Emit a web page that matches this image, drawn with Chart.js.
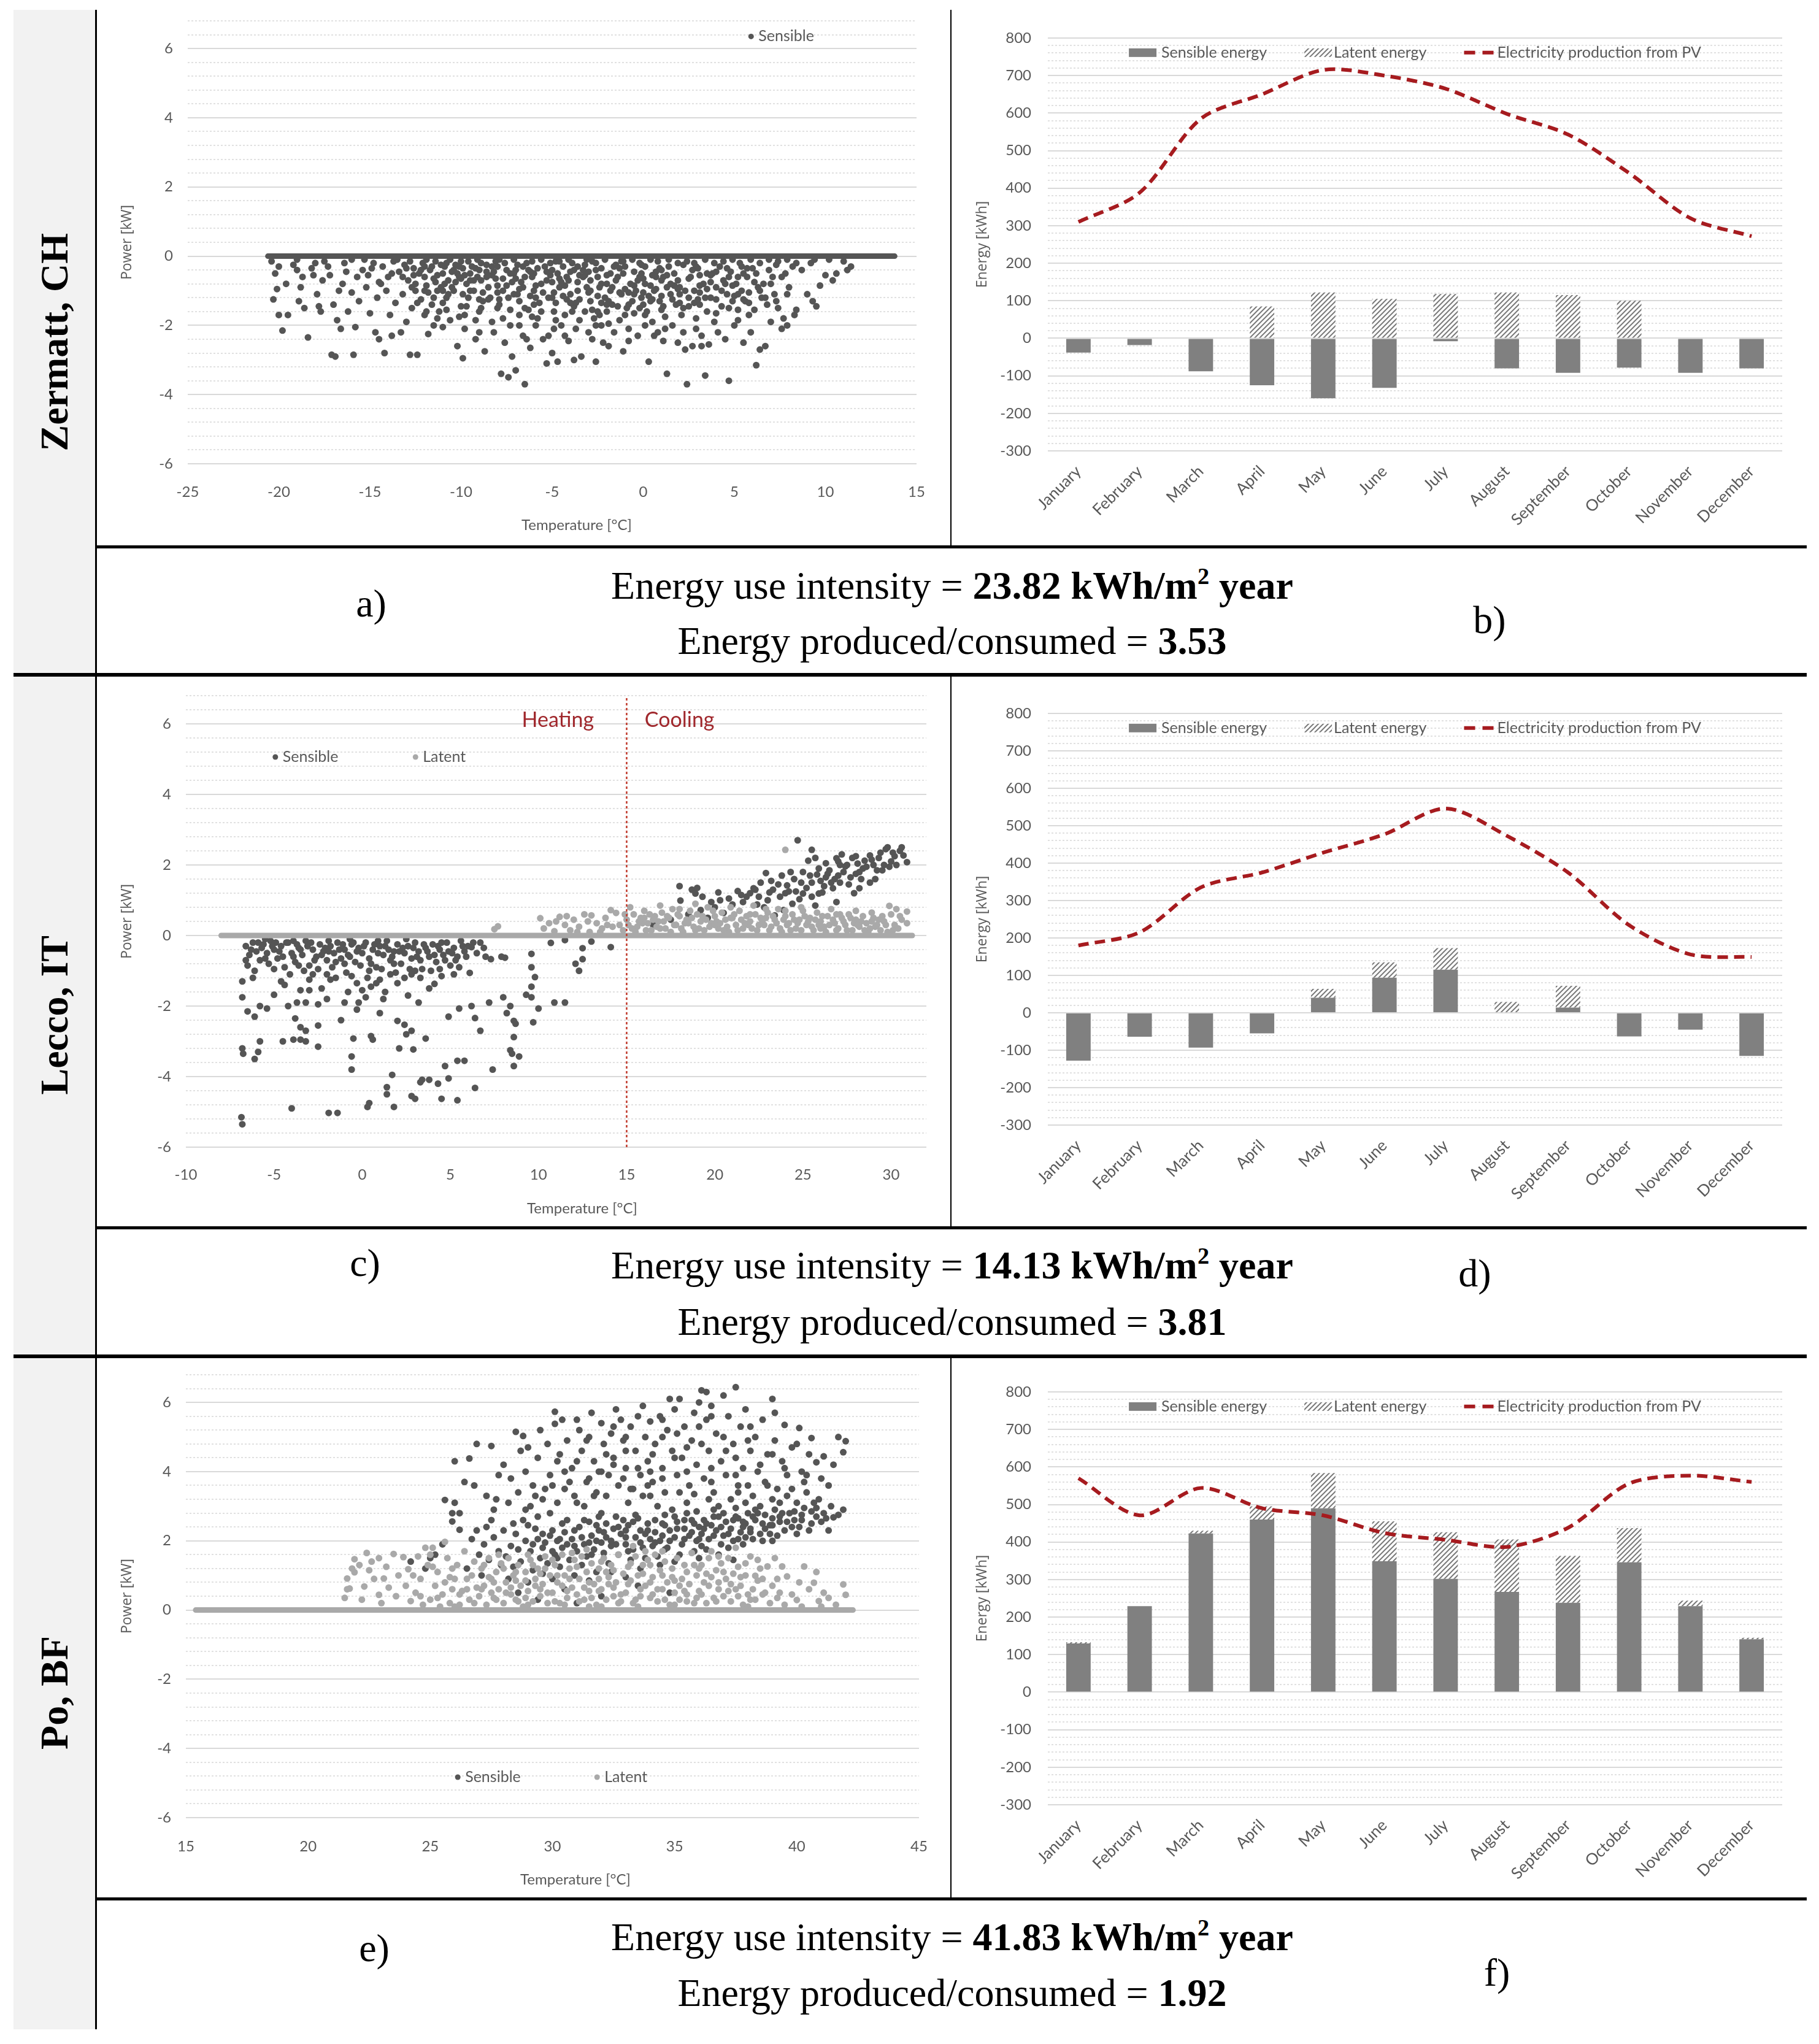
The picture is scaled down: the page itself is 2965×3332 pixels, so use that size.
<!DOCTYPE html>
<html lang="en">
<head>
<meta charset="UTF-8">
<title>Sensible and latent loads - Zermatt, Lecco, Po</title>
<script src="https://cdn.jsdelivr.net/npm/chart.js@4.4.1/dist/chart.umd.min.js"></script>
<style>
  html, body { margin: 0; padding: 0; background: #fff; }
  #page { position: relative; width: 2965px; height: 3332px; overflow: hidden; background: #fff; }
  .side { position: absolute; left: 22px; width: 133px; top: 16px; height: 3292px; background: #f2f2f2; }
  .place { position: absolute; left: 22px; width: 133px; display: flex; align-items: center; justify-content: center; }
  .place span { writing-mode: vertical-rl; transform: rotate(180deg); font: bold 64px "Liberation Serif", "Times New Roman", serif; color: #000; white-space: nowrap; }
  .line { position: absolute; background: #000; }
  .panel { position: absolute; }
  .cap { position: absolute; left: 159px; width: 2786px; text-align: center; font: 64px/64px "Liberation Serif", "Times New Roman", serif; color: #000; white-space: nowrap; }
  .cap sup { font-size: 0.6em; line-height: 0; vertical-align: 0.62em; }
  .tag { position: absolute; font: 64px/64px "Liberation Serif", "Times New Roman", serif; color: #000; transform: translateX(-50%); }
</style>
</head>
<body>
<div id="page">
  <div class="side"></div>
  <div class="place" style="top:16px;height:1083px"><span>Zermatt, CH</span></div>
  <div class="place" style="top:1099px;height:1111px"><span>Lecco, IT</span></div>
  <div class="place" style="top:2210px;height:1098px"><span>Po, BF</span></div>

  <div class="line" style="left:155px;top:16px;width:3px;height:3292px"></div>
  <div class="line" style="left:1549px;top:16px;width:2px;height:875px"></div>
  <div class="line" style="left:1549px;top:1101px;width:2px;height:900px"></div>
  <div class="line" style="left:1549px;top:2212px;width:2px;height:883px"></div>
  <div class="line" style="left:155px;top:889px;width:2790px;height:5px"></div>
  <div class="line" style="left:22px;top:1097px;width:2923px;height:6px"></div>
  <div class="line" style="left:155px;top:1999px;width:2790px;height:5px"></div>
  <div class="line" style="left:22px;top:2208px;width:2923px;height:6px"></div>
  <div class="line" style="left:155px;top:3093px;width:2790px;height:5px"></div>

  <div class="panel" style="left:159px;top:21px;width:1387px;height:868px"><canvas id="chartA"></canvas></div>
  <div class="panel" style="left:1551px;top:21px;width:1389px;height:868px"><canvas id="chartB"></canvas></div>
  <div class="panel" style="left:159px;top:1106px;width:1387px;height:892px"><canvas id="chartC"></canvas></div>
  <div class="panel" style="left:1551px;top:1106px;width:1389px;height:892px"><canvas id="chartD"></canvas></div>
  <div class="panel" style="left:159px;top:2217px;width:1387px;height:875px"><canvas id="chartE"></canvas></div>
  <div class="panel" style="left:1551px;top:2217px;width:1389px;height:875px"><canvas id="chartF"></canvas></div>

  <div class="cap" style="top:923px">Energy use intensity = <b>23.82 kWh/m<sup>2</sup> year</b></div>
  <div class="cap" style="top:1013px">Energy produced/consumed = <b>3.53</b></div>
  <div class="tag" style="left:605px;top:952px">a)</div>
  <div class="tag" style="left:2428px;top:979px">b)</div>

  <div class="cap" style="top:2031px">Energy use intensity = <b>14.13 kWh/m<sup>2</sup> year</b></div>
  <div class="cap" style="top:2123px">Energy produced/consumed = <b>3.81</b></div>
  <div class="tag" style="left:595px;top:2027px">c)</div>
  <div class="tag" style="left:2404px;top:2044px">d)</div>

  <div class="cap" style="top:3126px">Energy use intensity = <b>41.83 kWh/m<sup>2</sup> year</b></div>
  <div class="cap" style="top:3217px">Energy produced/consumed = <b>1.92</b></div>
  <div class="tag" style="left:610px;top:3144px">e)</div>
  <div class="tag" style="left:2440px;top:3184px">f)</div>
</div>

<script>
// ---- monthly energy balance (kWh) ----
const months = ['January', 'February', 'March', 'April', 'May', 'June', 'July', 'August', 'September', 'October', 'November', 'December'];

const zermattSensibleEnergy = [-38, -18, -88, -125, -160, -132, -8, -80, -92, -78, -92, -80];
const zermattLatentEnergy = [0, 0, 0, 85, 122, 105, 118, 122, 115, 100, 0, 0];
const zermattPV = [310, 388, 585, 650, 715, 700, 665, 598, 543, 440, 320, 272];

const leccoSensibleEnergy = [-128, -64, -93, -55, 40, 94, 115, 0, 14, -63, -45, -115];
const leccoLatentEnergy = [0, 0, 0, 0, 24, 41, 58, 29, 58, 0, 0, 0];
const leccoPV = [180, 215, 335, 375, 428, 477, 546, 473, 375, 234, 156, 149];

const poSensibleEnergy = [130, 229, 423, 460, 490, 349, 302, 267, 238, 346, 229, 141];
const poLatentEnergy = [3, 0, 7, 35, 94, 106, 124, 140, 125, 91, 15, 4];
const poPV = [570, 471, 544, 490, 471, 424, 406, 387, 438, 556, 577, 560];

// ---- hourly power vs outdoor temperature [T in degC, P in kW] ----
const zermattZeroLine = [[-20.6, 0], [13.8, 0]];
const zermattSensible = [
  [-20.4,-0.15],[-20.2,-0.5],[-20.1,-0.95],[-20.3,-1.25],[-20.0,-1.7],[-19.8,-2.15],[-19.6,-0.8],[-19.5,-1.7],[-20.0,-0.3],
  [-19.2,-0.25],[-19.0,-0.4],[-18.9,-1.3],[-18.7,-0.6],[-18.6,-1.5],[-18.4,-2.35],[-18.8,-0.9],
  [-18.2,-0.35],[-18.0,-0.2],[-17.9,-1.1],[-17.8,-1.45],[-17.6,-0.7],[-17.7,-1.6],[-18.1,-0.55],
  [-17.3,-0.3],[-17.1,-2.85],[-16.9,-2.9],[-17.0,-1.4],[-16.8,-1.85],[-16.7,-1.0],[-16.6,-2.1],[-17.2,-0.55],
  [-16.4,-0.2],[-16.2,-1.6],[-16.0,-1.05],[-15.9,-2.85],[-15.8,-2.05],[-15.7,-0.6],[-15.6,-1.3],[-16.3,-0.45],
  [-15.3,-0.1],[-15.2,-0.9],[-15.0,-1.65],[-14.9,-0.35],[-14.7,-2.2],[-14.6,-1.2],[-14.5,-2.4],[-15.1,-0.55],
  [-14.3,-0.3],[-14.2,-2.8],[-14.1,-1.0],[-14.0,-0.6],[-13.9,-1.7],[-13.8,-2.3],[-13.7,-0.15],[-13.6,-1.35],[-14.4,-0.8],
  [-13.4,-0.45],[-13.3,-2.2],[-13.2,-1.1],[-13.1,-0.25],[-13.0,-1.9],[-12.9,-0.7],[-12.8,-2.85],[-12.7,-1.5],[-12.6,-0.35],[-12.5,-1.0],[-13.2,-0.6],
  [-12.4,-2.85],[-12.3,-0.5],[-12.2,-1.25],[-12.1,-0.2],[-12.0,-1.7],[-11.9,-0.85],[-11.8,-2.25],[-11.7,-0.4],[-11.6,-1.4],[-11.5,-0.65],[-12.0,-0.3],[-11.8,-1.05],
  [-11.4,-0.15],[-11.3,-0.55],[-11.2,-1.6],[-11.1,-0.9],[-11.0,-2.05],[-10.9,-0.3],[-10.8,-1.2],[-10.7,-0.7],[-10.6,-1.85],[-10.5,-0.45],[-11.0,-1.35],[-10.8,-0.2],[-11.3,-1.0],
  [-10.4,-1.0],[-10.3,-0.25],[-10.2,-2.6],[-10.1,-0.6],[-10.0,-1.45],[-9.9,-0.35],[-9.8,-2.1],[-9.7,-0.8],[-9.6,-1.2],[-9.5,-0.5],[-10.0,-0.15],[-9.8,-1.7],[-10.3,-0.75],[-9.9,-2.95],
  [-9.4,-0.3],[-9.3,-1.0],[-9.2,-2.4],[-9.1,-0.6],[-9.0,-1.6],[-8.9,-0.2],[-8.8,-1.3],[-8.7,-2.75],[-8.6,-0.45],[-8.5,-0.9],[-9.2,-1.85],[-8.9,-0.7],[-9.0,-0.4],
  [-8.4,-1.2],[-8.3,-0.3],[-8.2,-2.2],[-8.1,-0.65],[-8.0,-1.5],[-7.9,-0.1],[-7.8,-3.4],[-7.7,-1.0],[-7.6,-2.5],[-7.5,-0.4],[-8.0,-0.85],[-7.7,-1.8],[-8.3,-0.55],[-7.9,-1.25],
  [-7.4,-3.5],[-7.3,-0.5],[-7.2,-2.9],[-7.1,-1.1],[-7.0,-3.3],[-6.9,-0.25],[-6.8,-1.7],[-6.7,-0.75],[-6.6,-2.3],[-6.5,-3.7],[-7.0,-0.4],[-6.8,-1.3],[-7.3,-2.0],[-6.6,-0.9],
  [-6.4,-0.2],[-6.3,-1.55],[-6.2,-2.65],[-6.1,-0.6],[-6.0,-1.0],[-5.9,-2.0],[-5.8,-0.35],[-5.7,-1.35],[-5.6,-0.8],[-5.5,-2.4],[-6.0,-0.5],[-5.8,-1.8],[-6.2,-1.15],
  [-5.4,-0.3],[-5.3,-3.1],[-5.2,-1.2],[-5.1,-0.55],[-5.0,-2.8],[-4.9,-1.6],[-4.8,-0.15],[-4.7,-3.05],[-4.6,-0.9],[-4.5,-2.0],[-5.0,-0.4],[-4.8,-1.35],[-5.2,-2.3],[-4.6,-0.65],[-4.9,-1.05],
  [-4.4,-0.3],[-4.3,-1.7],[-4.2,-0.6],[-4.1,-2.45],[-4.0,-1.1],[-3.9,-0.2],[-3.8,-1.45],[-3.7,-2.1],[-3.6,-0.75],[-3.5,-1.85],[-4.0,-0.45],[-3.8,-3.0],[-4.2,-1.25],[-3.6,-1.0],
  [-3.4,-2.9],[-3.3,-0.4],[-3.2,-1.6],[-3.1,-0.9],[-3.0,-2.2],[-2.9,-1.3],[-2.8,-0.15],[-2.7,-1.8],[-2.6,-3.05],[-2.5,-0.6],[-3.0,-1.05],[-2.8,-1.55],[-3.2,-0.25],[-2.6,-2.0],[-2.9,-0.7],
  [-2.4,-1.7],[-2.3,-0.35],[-2.2,-2.5],[-2.1,-1.2],[-2.0,-0.8],[-1.9,-1.95],[-1.8,-0.5],[-1.7,-1.4],[-1.6,-2.2],[-1.5,-0.25],[-2.0,-1.6],[-1.8,-1.0],[-2.3,-2.0],
  [-1.4,-0.6],[-1.3,-1.85],[-1.2,-1.1],[-1.1,-2.75],[-1.0,-0.3],[-0.9,-1.5],[-0.8,-2.1],[-0.7,-0.8],[-0.6,-1.3],[-0.5,-0.45],[-1.0,-1.7],[-0.8,-1.05],[-1.2,-0.15],
  [-0.4,-1.0],[-0.3,-2.3],[-0.2,-0.6],[-0.1,-1.2],[0.0,-1.05],[0.1,-0.3],[0.2,-1.6],[0.3,-3.05],[0.4,-0.85],[0.5,-1.9],[0.0,-1.4],[-0.2,-0.2],[0.3,-1.15],[0.1,-2.0],
  [0.6,-1.0],[0.7,-0.45],[0.8,-2.2],[0.9,-1.3],[1.0,-0.7],[1.1,-2.45],[1.2,-1.75],[1.3,-3.4],[1.4,-0.3],[1.5,-1.1],[1.0,-1.55],[0.8,-0.15],[1.3,-0.9],
  [1.6,-2.0],[1.7,-0.5],[1.8,-1.4],[1.9,-2.5],[2.0,-0.9],[2.1,-1.7],[2.2,-0.25],[2.3,-2.7],[2.4,-3.7],[2.5,-1.2],[1.9,-0.7],[2.2,-2.2],[2.0,-1.1],
  [2.6,-0.6],[2.7,-2.6],[2.8,-1.0],[2.9,-1.8],[3.0,-0.35],[3.1,-1.4],[3.2,-2.3],[3.3,-0.8],[3.4,-3.45],[3.5,-1.6],[2.8,-0.2],[3.1,-0.55],
  [3.6,-2.55],[3.7,-1.2],[3.8,-0.5],[3.9,-1.9],[4.0,-0.9],[4.1,-2.2],[4.2,-0.3],[4.3,-1.45],[4.4,-0.7],[4.0,-1.65],
  [4.6,-1.1],[4.7,-3.6],[4.8,-0.45],[4.9,-1.3],[5.0,-2.0],[5.1,-0.8],[5.2,-1.55],[5.3,-0.2],[5.4,-1.0],[5.5,-2.5],[5.0,-1.15],[5.2,-0.6],
  [5.6,-1.3],[5.7,-0.6],[5.8,-1.05],[5.9,-2.2],[6.0,-0.35],[6.1,-1.55],[6.2,-3.15],[6.3,-0.9],[6.4,-2.7],[6.5,-1.2],[5.8,-1.7],[6.2,-0.5],
  [6.6,-0.8],[6.7,-2.6],[6.8,-1.4],[6.9,-0.4],[7.0,-1.9],[7.1,-0.6],[7.2,-1.1],[7.3,-0.25],[7.4,-1.5],
  [7.6,-2.1],[7.7,-1.8],[7.8,-0.5],[7.9,-2.0],[8.0,-0.9],[8.2,-0.3],[8.3,-1.7],[8.4,-1.55],
  [8.7,-0.4],[9.0,-1.1],[9.2,-0.2],[9.5,-1.45],[9.3,-1.3],[10.0,-0.55],[10.4,-0.7],[10.6,-0.5],[11.2,-0.4],[11.4,-0.3],[9.7,-0.85],
  [-19.0,-0.1],[-17.5,-0.15],[-16.0,-0.1],[-14.8,-0.2],[-13.5,-0.1],[-12.8,-0.15],[-11.9,-0.1],[-11.1,-0.25],[-10.6,-0.1],[-10.1,-0.3],
  [-9.6,-0.15],[-9.1,-0.1],[-8.6,-0.25],[-8.1,-0.15],[-7.6,-0.2],[-7.1,-0.1],[-6.6,-0.3],[-6.1,-0.15],[-5.6,-0.1],[-5.1,-0.2],
  [-4.6,-0.15],[-4.1,-0.1],[-3.6,-0.3],[-3.1,-0.1],[-2.6,-0.2],[-2.1,-0.1],[-1.6,-0.3],[-1.1,-0.15],[-0.6,-0.1],[-0.1,-0.25],
  [0.4,-0.1],[0.9,-0.35],[1.4,-0.1],[1.9,-0.2],[2.4,-0.15],[2.9,-0.3],[3.4,-0.1],[3.9,-0.2],[4.4,-0.15],[4.9,-0.1],
  [5.4,-0.3],[5.9,-0.1],[6.4,-0.2],[6.9,-0.1],[7.4,-0.15],[7.9,-0.1],[8.4,-0.2],[9.4,-0.1],[10.2,-0.1],[11.0,-0.15],
  [-12.6,-0.55],[-11.4,-0.75],[-10.2,-0.5],[-9.3,-0.7],[-8.2,-0.45],[-7.2,-0.75],[-6.3,-0.4],[-5.3,-0.7],[-4.3,-0.85],[-3.3,-0.6],
  [-2.3,-0.8],[-1.3,-0.35],[-0.3,-0.7],[0.7,-0.6],[1.7,-0.85],[2.7,-0.4],[3.7,-0.75],[4.7,-0.6],[5.7,-0.35],
  [-9.9,-1.1],[-7.9,-1.4],[-5.9,-1.2],[-3.9,-1.6],[-1.9,-1.3],[0.1,-1.7],[1.1,-1.45],[3.1,-1.05],
  [-10.8,-1.55],[-8.8,-1.05],[-6.8,-2.0],[-4.8,-1.85],[-2.8,-2.4],[-0.8,-2.45],[1.2,-2.1],[3.2,-2.6],[5.2,-1.85],
  [-13.0,-0.35],[-12.7,-0.9],[-12.4,-1.35],[-12.2,-0.4],[-11.9,-1.6],[-11.6,-0.3],[-11.3,-1.8],[-11.0,-0.5],[-10.7,-1.1],[-10.4,-0.4],
  [-10.1,-1.75],[-9.8,-0.55],[-9.5,-1.0],[-9.2,-0.35],[-8.9,-1.5],[-8.6,-0.6],[-8.3,-1.9],[-8.0,-0.3],[-7.7,-0.65],[-7.4,-1.2],
  [-7.1,-0.5],[-6.8,-0.95],[-6.5,-1.5],[-6.2,-0.45],[-5.9,-0.85],[-5.6,-1.6],[-5.3,-0.45],[-5.0,-1.2],[-4.7,-0.5],[-4.4,-1.15],
  [-4.1,-0.7],[-3.8,-0.4],[-3.5,-1.25],[-3.2,-0.55],[-2.9,-1.0],[-2.6,-0.4],[-2.3,-1.35],[-2.0,-0.55],[-1.7,-0.9],[-1.4,-1.45],
  [-1.1,-0.5],[-0.8,-1.4],[-0.5,-0.85],[-0.2,-1.5],[0.1,-0.8],[0.4,-1.3],[0.7,-0.95],[1.0,-1.15],[1.3,-0.55],[1.6,-1.25],
  [1.9,-0.95],[2.2,-1.5],[2.5,-0.65],[2.8,-1.35],[3.1,-0.85],[3.4,-1.2],[3.7,-0.55],[4.0,-0.45],[4.3,-1.0],[4.6,-0.35],
  [4.9,-0.85],[5.2,-1.1],[5.5,-0.5],[5.8,-1.35],[6.1,-0.75],[6.4,-1.0],[6.7,-1.2],[7.0,-0.8],[7.3,-1.3],[7.6,-0.6],
  [7.9,-1.1],[-12.0,-1.0],[-10.9,-0.8],[-9.7,-1.45],[-8.5,-1.25],[-7.3,-1.55],[-6.1,-1.75],[-4.9,-2.1],[-3.7,-1.35],[-2.5,-1.6],
  [-1.3,-1.05],[-0.1,-0.5],[1.1,-0.6],[2.3,-1.0],[3.5,-0.5],[4.7,-1.5],[-11.5,-2.0],[-9.0,-2.2],[-6.4,-2.4],[-4.3,-2.3],
  [-1.9,-2.6],[0.6,-2.3],[2.9,-2.1],[4.5,-2.4],[-13.8,-0.5],[-14.5,-0.75],[-15.4,-0.4],[-16.5,-0.8],
  [-12.5,-0.8],[-11.5,-1.2],[-10.5,-0.9],[-9.5,-0.7],[-8.5,-0.55],[-7.5,-0.85],[-6.5,-0.6],[-5.5,-1.05],[-4.5,-0.75],[-3.5,-0.55],
  [-2.5,-1.15],[-1.5,-0.7],[-0.5,-1.1],[0.5,-0.55],[1.5,-0.8],[2.5,-1.45],[3.5,-0.95],[4.5,-0.8],[5.5,-1.25],[-12.0,-0.6],
  [-11.0,-1.0],[-10.0,-0.65],[-9.0,-1.25],[-8.0,-1.05],[-7.0,-0.65],[-6.0,-1.4],[-5.0,-0.75],[-4.0,-1.35],[-3.0,-0.45],[-2.0,-1.4],
  [-1.0,-0.95],[0.0,-0.65],[1.0,-0.4],[2.0,-1.35],[3.0,-1.25],[4.0,-1.25],[-0.5,-1.65],[0.5,-1.25],[-2.4,-0.9],[-6.9,-1.1]
];

const leccoZeroLine = [[-8.0, 0], [31.2, 0]];
const leccoBoundary = [[15, -6], [15, 6.8]];
const leccoSensible = [
  [-6.6,-0.3],[-6.4,-0.55],[-6.2,-0.2],[-6.0,-0.45],[-5.8,-0.7],[-5.6,-0.25],[-5.4,-0.5],[-5.2,-0.15],[-5.0,-0.4],[-4.8,-0.65],
  [-4.6,-0.3],[-4.4,-0.9],[-4.2,-0.2],[-4.0,-0.5],[-3.8,-0.75],[-3.6,-0.35],[-3.4,-0.55],[-3.2,-0.15],[-3.0,-0.85],[-2.8,-0.4],
  [-2.6,-0.6],[-2.4,-0.25],[-2.2,-0.45],[-2.0,-0.7],[-1.8,-0.3],[-1.6,-0.5],[-1.4,-0.2],[-1.2,-0.65],[-1.0,-0.4],[-0.8,-0.55],
  [-0.6,-0.25],[-0.4,-0.75],[-0.2,-0.35],[0.0,-0.5],[0.2,-0.2],[0.4,-0.65],[0.6,-0.4],[0.8,-0.9],[1.0,-0.3],[1.2,-0.55],
  [1.4,-0.15],[1.6,-0.7],[1.8,-0.45],[2.0,-0.25],[2.2,-0.8],[2.4,-0.5],[2.6,-0.3],[2.8,-0.65],[3.0,-0.2],[3.2,-0.45],
  [3.4,-0.95],[3.6,-0.35],[3.8,-0.6],[4.0,-0.25],[4.2,-0.75],[4.4,-0.4],[4.6,-0.55],[4.8,-0.2],[5.0,-0.85],[5.2,-0.35],
  [5.4,-0.6],[5.6,-0.15],[5.8,-0.45],[6.0,-0.3],[6.3,-0.2],
  [-6.5,-0.85],[-6.1,-1.0],[-5.7,-0.35],[-5.3,-0.8],[-4.9,-0.2],[-4.5,-0.6],[-4.1,-1.1],[-3.7,-0.25],[-3.3,-1.0],[-2.9,-0.2],
  [-2.5,-0.95],[-2.1,-0.35],[-1.7,-0.9],[-1.3,-0.4],[-0.9,-1.05],[-0.5,-0.2],[-0.1,-0.85],[0.3,-1.2],[0.7,-0.25],[1.1,-0.95],
  [1.5,-0.4],[1.9,-1.05],[2.3,-0.35],[2.7,-0.95],[3.1,-0.6],[3.5,-0.25],[3.9,-1.0],[4.3,-0.3],[4.7,-0.7],[5.1,-0.5],
  [5.5,-0.9],[5.9,-0.6],[-1.9,-0.15],[-0.7,-0.1],[0.9,-0.15],[2.5,-0.1],[-3.9,-0.15],[-5.5,-0.1],
  [-6.2,-1.2],[-5.0,-1.68],[-4.6,-1.3],[-3.5,-1.55],[-3.0,-1.25],[-2.3,-1.5],[-1.5,-1.2],[-0.8,-1.6],[-0.3,-1.35],[0.2,-1.75],
  [0.5,-1.45],[1.0,-1.25],[1.3,-1.6],[2.0,-1.35],[2.6,-1.7],[3.3,-1.2],[3.8,-1.5],[4.1,-1.37],[4.5,-1.15],[6.1,-1.06],
  [-2.0,-1.8],[-1.0,-1.9],[0.0,-1.55],
  [-6.8,-1.3],[-6.8,-1.75],[-6.8,-3.2],[-6.75,-3.35],[-6.85,-5.15],[-6.8,-5.35],[-6.5,-2.15],[-6.1,-2.3],[-6.1,-3.5],[-5.8,-3.0],
  [-5.8,-2.0],[-5.4,-2.07],[-3.8,-2.35],[-3.5,-2.95],[-3.5,-2.6],[-3.2,-3.0],[-3.2,-2.7],[-3.2,-1.9],[-2.5,-3.15],[-2.5,-2.55],
  [-2.5,-1.95],[-4.0,-4.9],[-1.9,-5.03],[-1.4,-5.03],[-0.6,-3.43],[-0.6,-3.8],[-0.5,-2.92],[0.3,-4.86],[0.4,-4.75],[0.5,-2.85],
  [0.6,-2.95],[1.4,-4.3],[1.4,-4.5],[1.7,-3.95],[1.8,-4.86],[2.0,-2.42],[2.4,-2.53],[2.1,-3.2],[2.5,-2.8],[2.8,-2.7],
  [2.9,-3.23],[2.8,-4.55],[3.0,-4.63],[3.3,-4.16],[3.4,-4.09],[3.6,-2.92],[3.8,-4.09],[4.3,-4.2],[4.5,-4.63],[4.7,-3.7],
  [4.9,-4.05],[5.4,-3.55],[5.8,-3.55],[5.4,-4.67],[6.4,-4.32],[4.9,-2.3],[5.5,-2.07],[6.2,-2.0],[6.7,-2.7],[6.4,-2.34],
  [7.2,-1.9],[7.4,-3.8],[8.0,-1.75],[8.2,-2.2],[8.4,-2.0],[8.6,-2.42],[8.6,-2.88],[8.7,-2.5],[8.4,-3.25],[8.5,-3.35],
  [8.9,-3.43],[8.6,-3.7],[9.3,-1.68],[9.6,-1.75],[9.7,-2.46],[10.0,-2.07],[9.6,-1.45],[9.6,-0.9],[9.8,-1.18],[9.6,-0.52],
  [10.9,-1.9],[11.5,-1.9],[12.1,-0.8],[12.3,-1.0],[12.5,-0.67],[12.5,-0.36],[13.0,-0.17],[14.1,-0.33],[11.5,-0.13],[10.7,-0.21],
  [7.3,-0.67],[7.9,-0.6],[8.1,-0.63],[7.0,-0.6],[6.2,-0.33],[6.7,-0.2],[-4.2,-2.0],[-0.3,-2.1],[-1.2,-2.4],[1.0,-2.2],
  [3.2,-1.9],[-5.9,-3.3],[-4.5,-3.0],[-3.9,-2.95],
  [-6.3,-0.4],[-5.9,-0.2],[-5.5,-0.65],[-5.1,-0.3],[-4.7,-0.45],[-4.3,-0.2],[-3.9,-0.6],[-3.5,-0.4],[-3.1,-0.3],[-2.7,-0.7],
  [-2.3,-0.55],[-1.9,-0.45],[-1.5,-0.75],[-1.1,-0.25],[-0.7,-0.6],[-0.3,-0.45],[0.1,-0.3],[0.5,-0.8],[0.9,-0.5],[1.3,-0.3],
  [1.7,-0.6],[2.1,-0.45],[2.9,-0.35],[3.3,-0.7],[3.7,-0.45],[4.1,-0.55],[4.5,-0.2],[4.9,-0.45],[5.3,-0.7],[5.7,-0.3],
  [-4.4,-1.4],[-3.0,-1.55],[-1.8,-1.25],[-0.6,-1.15],[0.8,-1.35],[1.6,-1.1],[2.4,-1.2],[3.0,-1.0],[4.4,-0.95],[5.2,-1.1],
  [-2.8,-1.1],[-1.0,-0.8],[0.4,-1.0],[1.8,-0.8],[2.8,-1.1],[-6.6,-0.7],[-5.0,-0.95],[-3.6,-0.85],[-2.0,-1.1],[6.5,-0.5],
  [6.9,-0.35],[-0.2,-1.9],[1.2,-1.8],[-3.7,-1.9],
  [18.0,1.4],[18.7,1.3],[18.9,1.19],[18.05,0.99],[19.3,1.1],[19.8,0.95],[20.2,1.22],[20.5,0.64],[21.3,1.26],[21.8,1.1],
  [22.2,1.34],[22.6,1.5],[22.9,1.77],[23.1,1.22],[23.7,1.1],[24.1,1.42],[24.3,1.8],[24.7,2.7],[25.3,2.12],[25.5,2.43],
  [24.8,1.03],[25.5,1.5],[25.8,1.73],[26.1,1.22],[26.3,1.65],[26.9,0.95],[26.9,2.19],[27.1,1.5],[27.3,1.8],[27.4,1.96],
  [27.7,1.65],[28.1,2.04],[28.5,2.12],[28.8,2.27],[28.2,1.34],[29.8,2.5],[30.1,2.35],[30.3,2.0],[30.7,2.27],[30.9,2.08],
  [23.9,0.72],[23.4,0.57],[22.4,0.88],[21.0,0.88],[19.2,0.72],[26.7,1.34],[25.0,1.19],[25.5,1.1],[25.9,1.19],[28.8,1.5],
  [20.8,1.05],[21.6,0.95],[22.0,1.2],[23.3,1.3],[24.5,1.6],[25.2,1.35],[26.0,1.55],[26.5,1.85],[27.0,1.7],[27.6,1.45],
  [28.0,1.75],[28.4,1.9],[29.0,2.0],[29.3,2.2],[29.5,1.85],[30.0,2.1],[24.0,1.2],[23.0,1.0],[22.8,0.8],[20.0,0.8],
  [18.5,0.6],[16.5,0.3],[17.5,0.45],[19.6,0.5],[27.2,2.3],[26.3,2.05],[25.7,0.85],[24.4,0.9],[27.9,1.2],[29.1,1.6],
  [22.5,1.1],[23.6,1.45],[24.6,1.25],[25.4,1.7],[26.2,1.4],[26.8,1.6],[27.5,2.0],[28.3,1.6],[28.6,1.95],[29.4,2.35],
  [29.9,1.95],[30.5,2.4],[27.0,2.1],[25.9,1.9],[24.9,1.5],[23.8,1.7],
  [25.0,1.8],[25.7,2.2],[26.4,1.75],[27.1,2.0],[27.8,2.2],[28.2,1.8],[28.9,2.15],[29.6,2.0],[30.2,2.25],[29.2,1.85],
  [28.0,2.25],[26.6,1.5],[24.2,1.25],[23.2,1.55],[22.3,1.3],[21.5,1.15],[20.3,1.0],[19.0,1.35],[30.6,2.5],[29.7,2.45]
];
const leccoLatent = [
  [7.7,0.26],[7.5,0.18],[10.1,0.49],[10.3,0.2],[10.6,0.35],[10.9,0.12],[11.2,0.53],[11.5,0.3],[11.8,0.15],[12.0,0.45],
  [12.3,0.25],[12.6,0.6],[12.9,0.1],[13.0,0.57],[13.3,0.35],[13.6,0.2],[13.8,0.5],[14.1,0.72],[14.4,0.64],[14.6,0.3],
  [14.8,0.15],[15.0,0.45],[15.2,0.8],[15.4,0.6],[15.6,0.25],[15.8,0.5],[16.0,0.7],[16.2,0.35],[16.4,0.15],[16.6,0.55],
  [16.8,0.4],[17.0,0.65],[17.2,0.2],[17.4,0.5],[17.6,0.75],[17.8,0.3],[18.0,0.55],[18.2,0.1],[18.4,0.45],[18.6,0.7],
  [18.8,0.25],[19.0,0.6],[19.2,0.4],[19.4,0.15],[19.6,0.8],[19.8,0.35],[20.0,0.55],[20.2,0.2],[20.4,0.65],[20.6,0.45],
  [20.8,0.1],[21.0,0.5],[21.2,0.3],[21.4,0.7],[21.6,0.2],[21.8,0.55],[22.0,0.4],[22.2,0.85],[22.4,0.15],[22.6,0.5],
  [22.8,0.3],[23.0,0.65],[23.2,0.25],[23.4,0.45],[23.6,0.75],[23.8,0.1],[24.0,2.43],[24.0,0.55],[24.2,0.35],[24.4,0.6],
  [24.6,0.2],[24.8,0.45],[25.0,0.7],[25.2,0.3],[25.4,0.5],[25.6,0.15],[25.8,0.65],[26.0,0.4],[26.2,0.25],[26.4,0.55],
  [26.6,0.75],[26.8,0.35],[27.0,0.2],[27.2,0.5],[27.4,0.3],[27.6,0.6],[27.8,0.15],[28.0,0.45],[28.2,0.25],[28.4,0.55],
  [28.6,0.35],[28.8,0.2],[29.0,0.5],[29.2,0.3],[29.4,0.15],[29.6,0.4],[29.9,0.84],[30.2,0.3],[30.4,0.2],[30.6,0.45],
  [30.9,0.68],[30.9,0.35],
  [15.1,0.3],[15.5,0.1],[15.9,0.35],[16.3,0.6],[16.7,0.25],[17.1,0.4],[17.5,0.1],[17.9,0.6],[18.3,0.35],[18.7,0.5],
  [19.1,0.2],[19.5,0.45],[19.9,0.7],[20.3,0.35],[20.7,0.25],[21.1,0.6],[21.5,0.45],[21.9,0.3],[22.3,0.6],[22.7,0.4],
  [23.1,0.15],[23.5,0.35],[23.9,0.45],[24.3,0.15],[24.7,0.35],[25.1,0.55],[25.5,0.25],[25.9,0.3],[26.3,0.1],[26.7,0.45],
  [27.1,0.6],[27.5,0.15],[27.9,0.35],[28.3,0.4],[28.7,0.1],[29.1,0.25],[29.5,0.55],[29.8,0.1],[13.5,0.1],[14.2,0.25],
  [11.0,0.4],[12.2,0.1],[14.9,0.6],[16.9,0.85],[18.9,0.9],[20.9,0.8],[22.9,0.75],[24.9,0.8],[26.9,0.6],[28.9,0.65],[30.0,0.6],
  [15.3,0.2],[15.7,0.4],[16.1,0.15],[16.5,0.45],[16.9,0.2],[17.3,0.55],[17.7,0.3],[18.1,0.2],[18.5,0.35],[18.9,0.15],
  [19.3,0.55],[19.7,0.25],[20.1,0.4],[20.5,0.15],[20.9,0.5],[21.3,0.15],[21.7,0.35],[22.1,0.2],[22.5,0.3],[22.9,0.5],
  [23.3,0.55],[23.7,0.2],[24.1,0.3],[24.5,0.45],[24.9,0.15],[25.3,0.4],[25.7,0.45],[26.1,0.55],[26.5,0.3],[26.9,0.15],
  [27.3,0.4],[27.7,0.5],[28.1,0.3],[28.5,0.15],[28.9,0.4],[29.3,0.45],[29.7,0.3],[30.1,0.15],[30.5,0.55],[16.0,0.5],
  [18.0,0.75],[20.0,0.3],[22.0,0.6],[24.0,0.7],[26.0,0.2],[28.0,0.7],[30.3,0.75],[12.8,0.4],[13.9,0.3],[11.6,0.55]
];

const poZeroLine = [[15.4, 0], [42.3, 0]];
const poSensible = [
  [27.0,1.6],[27.2,1.9],[27.4,1.45],[27.6,2.1],[27.8,1.7],[28.0,2.3],[27.3,2.4],[27.9,1.3],
  [28.1,1.55],[28.3,1.85],[28.5,2.2],[28.7,1.4],[28.9,2.0],[29.1,1.7],[29.3,2.35],[29.5,1.5],[29.7,1.95],[29.9,2.15],[28.4,1.25],[29.2,1.15],[29.8,1.35],[28.8,2.6],[29.4,2.7],
  [30.1,1.6],[30.2,2.0],[30.4,1.8],[30.5,2.25],[30.7,1.45],[30.8,2.05],[31.0,1.7],[31.1,2.4],[31.3,1.9],[31.4,1.55],[31.6,2.15],[31.7,1.75],[31.9,2.3],[32.0,1.95],[30.3,1.25],[31.2,1.3],[31.8,1.1],[30.6,2.6],[31.5,2.55],
  [32.1,1.65],[32.2,2.1],[32.4,1.85],[32.5,2.35],[32.7,1.6],[32.8,2.2],[33.0,1.9],[33.1,2.45],[33.3,1.75],[33.4,2.1],[33.6,2.3],[33.7,1.8],[33.9,2.5],[34.0,2.05],[32.3,1.35],[33.2,1.45],[33.8,1.5],[32.6,2.7],[33.5,2.65],
  [34.1,1.85],[34.2,2.25],[34.4,2.0],[34.5,2.5],[34.7,1.8],[34.8,2.3],[35.0,2.1],[35.1,2.55],[35.3,1.9],[35.4,2.35],[35.6,2.15],[35.7,2.6],[35.9,2.0],[36.0,2.4],[34.3,1.55],[35.2,1.6],[35.8,1.7],[34.6,2.75],[35.5,2.8],
  [36.1,2.2],[36.2,2.6],[36.4,2.05],[36.5,2.45],[36.7,2.3],[36.8,2.7],[37.0,2.15],[37.1,2.55],[37.3,2.35],[37.4,2.0],[37.6,2.65],[37.7,2.25],[37.9,2.5],[38.0,2.8],[36.3,1.75],[37.2,1.8],[37.8,1.9],[36.6,2.9],[37.5,2.95],
  [38.1,2.35],[38.3,2.6],[38.5,2.2],[38.7,2.75],[38.9,2.45],[39.1,2.9],[39.3,2.55],[39.5,2.3],[39.7,2.8],[39.9,2.6],[40.1,2.4],[40.3,2.95],[40.6,2.5],[40.8,2.7],[41.1,2.8],[41.5,2.68],[41.9,2.9],[38.6,2.0],[39.2,2.15],[40.0,3.1],[39.0,3.2],[38.2,2.05],
  [26.5,1.2],[27.1,1.0],[28.2,0.9],[29.0,0.8],[29.6,1.05],[30.0,0.9],[30.9,1.0],[31.5,0.85],[32.4,1.1],[33.0,0.95],[33.6,1.2],[34.4,1.3],[35.0,1.4],[36.0,1.5],[36.8,1.6],[37.4,1.45],[28.6,0.5],[30.5,0.6],[32.0,0.4],[33.5,0.7],[34.8,0.5],[31.0,0.2],[29.4,0.3],
  [25.0,1.5],[25.2,1.6],[25.5,1.9],[25.6,3.18],[26.0,3.1],[25.9,2.8],[26.2,2.8],[26.2,2.32],[25.9,2.56],[26.0,4.3],[26.6,4.38],[26.9,4.8],[27.5,4.74],[26.4,3.7],[26.8,3.6],[27.3,3.3],[27.6,2.9],[26.7,2.05],[24.2,1.4],[24.8,1.2],
  [28.5,5.15],[28.8,5.03],[30.1,5.73],[30.1,5.38],[28.0,4.2],[28.3,3.8],[28.6,3.4],[28.9,4.0],[29.2,3.6],[29.4,4.4],[29.6,3.2],[29.8,4.8],[29.9,3.9],[30.3,4.5],[30.5,3.5],[30.6,4.9],[30.8,4.1],[30.9,3.3],
  [31.1,5.2],[31.2,4.6],[31.4,3.7],[31.5,5.0],[31.7,4.3],[31.8,3.4],[32.0,5.4],[32.1,4.8],[32.3,3.9],[32.4,5.1],[32.5,4.4],[32.7,3.6],[32.8,5.5],[32.9,4.9],[33.0,4.1],[33.2,5.3],[33.3,3.5],[33.4,4.6],
  [33.5,5.6],[33.6,3.9],[33.8,5.0],[33.9,4.3],[34.0,5.45],[34.1,3.7],[34.2,4.8],[34.4,5.6],[34.5,4.1],[34.6,3.4],[34.7,5.2],[34.9,4.6],[35.0,5.8],[35.1,3.9],[35.2,6.1],[35.3,4.4],[35.4,5.3],[35.6,3.6],
  [35.7,4.9],[35.8,5.7],[35.9,4.2],[36.0,6.0],[36.1,6.35],[36.2,3.8],[36.3,5.5],[36.4,4.6],[36.5,5.9],[36.6,3.4],[36.7,5.1],[36.9,4.3],[37.0,6.2],[37.1,3.9],[37.2,5.6],[37.4,4.8],[37.5,6.44],[37.6,3.6],
  [37.7,5.3],[37.8,4.1],[37.9,5.8],[38.1,4.6],[38.2,3.3],[38.3,5.0],[38.4,4.0],[38.6,5.5],[38.7,3.7],[38.8,4.5],[39.0,6.1],[39.1,4.9],[39.2,3.5],[39.4,4.3],[39.5,5.35],[39.6,3.9],[39.8,4.7],[40.1,5.26],
  [40.2,4.0],[40.4,3.4],[40.6,4.97],[40.8,4.27],[41.1,4.44],[41.3,3.6],[41.7,5.0],[41.9,4.56],[42.0,4.88],[40.9,3.2],[40.3,3.7],[39.3,3.1],[38.5,3.0],[37.3,3.2],[36.8,3.0],[35.5,3.1],[34.3,3.0],[33.1,3.1],
  [32.2,3.3],[31.3,3.0],[30.2,3.1],[29.1,3.0],[29.0,4.7],[29.5,5.2],[30.4,5.5],[31.0,5.5],[31.6,5.7],[32.6,5.8],[33.7,5.9],[34.8,6.1],[36.3,6.3],[34.5,5.0],[35.5,4.7],[36.5,4.1],[37.5,4.4],[38.0,4.9],
  [33.9,3.6],[32.9,3.8],[31.9,4.0],[30.7,3.7],[29.7,3.5],[28.2,3.1],[27.8,3.9],[28.7,4.6],
  [28.6,1.75],[29.0,2.45],[29.6,1.8],[30.0,2.3],[30.4,2.5],[30.9,1.85],[31.3,2.6],[31.8,2.0],[32.2,2.5],[32.6,1.9],
  [33.0,2.3],[33.4,2.75],[33.8,2.2],[34.2,1.95],[34.6,2.45],[35.0,2.7],[35.4,2.05],[35.8,2.5],[36.2,2.35],[36.6,2.15],
  [37.0,2.8],[37.4,2.6],[37.8,2.4],[38.2,2.7],[38.6,2.5],[39.0,2.65],[39.4,2.8],[39.8,2.4],[40.2,2.6],[40.6,2.85],
  [41.0,2.55],[41.4,3.0],[29.9,2.8],[31.0,3.1],[32.0,2.8],[33.2,3.5],[34.0,3.3],[35.2,3.4],[36.4,3.2],[37.6,3.4],
  [38.8,3.6],[39.6,3.3],[40.4,3.9],[30.5,4.0],[31.5,3.8],[32.5,4.2],[33.5,4.1],[34.5,3.8],[35.5,4.0],[36.5,3.7],
  [37.5,3.9],[38.5,4.2],[39.5,4.1],[40.5,4.5],[41.5,4.2],[28.9,2.9],[27.5,2.6],[26.9,2.3],[33.0,4.6],[34.1,4.5],
  [35.1,5.1],[36.1,4.8],[37.1,4.6],[38.1,5.3],[39.1,5.7],[32.2,4.5],[31.4,4.9],[30.2,4.3],[29.3,3.3],[28.4,2.5],
  [27.7,3.2],[41.3,2.3],[40.0,2.2],[38.9,2.2],[37.9,2.1],[36.9,1.9],
  [29.2,1.9],[29.6,2.2],[30.0,1.7],[30.3,2.05],[30.6,1.9],[30.9,2.3],[31.2,2.1],[31.5,1.95],[31.8,2.45],[32.1,2.25],
  [32.4,2.0],[32.7,2.4],[33.0,2.1],[33.3,2.55],[33.6,1.95],[33.9,2.3],[34.2,2.6],[34.5,2.15],[34.8,2.0],[35.1,2.35],
  [35.4,2.6],[35.7,2.25],[36.0,2.05],[36.3,2.5],[36.6,2.7],[36.9,2.4],[37.2,2.2],[37.5,2.7],[37.8,2.55],[38.1,2.25],
  [38.4,2.8],[38.7,2.35],[39.0,2.45],[39.3,2.7],[39.6,2.55],[39.9,2.85],[40.2,2.75],[40.5,2.3],[40.8,2.95],[41.2,2.65],
  [41.7,2.75],[30.2,1.5],[31.6,1.6],[33.1,1.7],[34.6,1.75],[36.1,1.85],[37.6,2.05],[39.0,2.0],[29.4,2.05],[32.9,2.6],
  [35.9,2.85],[38.3,2.9],[40.7,3.1],[34.9,2.9],[31.9,2.7],
  [31.0,4.3],[32.0,4.0],[33.0,5.0],[34.0,4.0],[35.0,4.4],[36.0,5.3],[37.0,5.0],[38.0,3.6],[39.0,4.5],[40.0,4.8],
  [41.0,3.8],[30.0,3.6],[32.5,5.3],[34.5,5.5],[36.5,5.6],[35.8,3.35],[33.7,3.3],[31.7,3.3],[37.9,3.1],[39.8,3.5]
];
const poLatent = [
  [21.5,0.35],[21.9,1.47],[22.4,1.65],[22.9,1.5],[23.1,0.91],[23.5,1.62],[23.9,1.53],[21.6,0.91],[22.3,0.68],[23.3,0.65],
  [24.1,1.18],[21.7,0.62],[22.9,0.44],[22.5,1.15],[21.9,1.09],[24.2,0.26],[22.1,1.3],[22.7,0.9],[23.7,1.0],[21.8,1.2],
  [22.6,1.4],[23.2,1.25],[21.6,0.6],[23.0,0.2],
  [24.8,1.8],[25.1,1.8],[25.6,1.97],[24.4,0.5],[24.6,0.9],[24.9,1.3],[25.0,0.3],[25.2,0.7],[25.3,1.1],[25.5,0.45],
  [25.7,1.5],[25.8,0.2],[26.0,0.9],[26.1,1.3],[26.3,0.55],[26.4,1.7],[26.6,0.3],[26.7,1.0],[26.9,0.65],[24.3,1.0],
  [24.7,0.15],[25.4,0.1],[25.9,0.6],[26.2,0.15],[26.8,1.4],[24.5,1.55],[25.0,1.6],
  [27.0,0.4],[27.1,1.2],[27.2,0.7],[27.3,0.15],[27.4,1.5],[27.5,0.9],[27.6,0.35],[27.7,1.1],[27.8,0.6],[27.9,1.35],
  [28.0,0.2],[28.1,0.8],[28.2,1.5],[28.3,0.45],[28.4,1.0],[28.5,0.3],[28.6,1.3],[28.7,0.7],[28.8,0.1],[28.9,1.1],
  [29.0,0.55],[29.1,1.45],[29.2,0.25],[29.3,0.9],[29.4,1.2],[29.5,0.4],[29.6,0.75],[29.7,1.55],[29.8,0.2],[29.9,1.0],
  [27.5,0.5],[28.5,0.85],[29.5,0.6],
  [30.0,0.5],[30.1,1.3],[30.2,0.8],[30.3,0.2],[30.4,1.6],[30.5,1.0],[30.6,0.35],[30.7,1.2],[30.8,0.65],[30.9,1.45],
  [31.0,0.45],[31.1,0.9],[31.2,1.55],[31.3,0.3],[31.4,1.1],[31.5,0.55],[31.6,1.35],[31.7,0.75],[31.8,0.15],[31.9,1.2],
  [32.0,0.6],[32.1,1.5],[32.2,0.3],[32.3,0.95],[32.4,1.3],[32.5,0.4],[32.6,0.8],[32.7,1.6],[32.8,0.25],[32.9,1.05],
  [30.5,0.15],[31.5,0.1],[32.5,1.15],
  [33.0,0.5],[33.1,1.25],[33.2,0.85],[33.3,0.2],[33.4,1.55],[33.5,1.0],[33.6,0.4],[33.7,1.3],[33.8,0.7],[33.9,1.45],
  [34.0,0.35],[34.1,0.95],[34.2,1.6],[34.3,0.25],[34.4,1.15],[34.5,0.6],[34.6,1.4],[34.7,0.8],[34.8,0.15],[34.9,1.2],
  [35.0,0.5],[35.1,1.5],[35.2,0.3],[35.3,0.9],[35.4,1.3],[35.5,0.45],[35.6,0.75],[35.7,1.65],[35.8,0.2],[35.9,1.0],
  [33.5,0.1],[34.5,1.7],[35.5,1.1],
  [36.0,0.55],[36.1,1.3],[36.2,0.8],[36.3,0.2],[36.4,1.5],[36.5,0.95],[36.6,0.35],[36.7,1.15],[36.8,0.6],[36.9,1.35],
  [37.0,0.4],[37.1,0.9],[37.2,1.5],[37.3,0.25],[37.4,1.05],[37.5,0.6],[37.6,1.25],[37.7,0.7],[37.8,0.15],[37.9,1.0],
  [38.0,0.45],[38.1,1.55],[38.3,0.3],[38.4,0.85],[38.5,1.2],[38.7,0.5],[38.8,1.26],[38.9,0.2],[36.5,1.7],[37.5,1.8],
  [39.0,0.7],[39.2,0.35],[39.4,1.26],[39.6,0.97],[39.8,0.45],[40.0,0.29],[40.3,1.26],[40.5,0.6],[40.7,0.79],[40.9,0.26],
  [41.1,0.5],[41.3,0.35],[41.6,0.15],[41.9,0.74],[42.0,0.44],[39.1,1.5],[38.3,0.99],[39.5,0.15],[40.2,0.1],[41.0,0.1],
  [25.3,0.35],[25.6,0.8],[25.9,1.2],[26.2,0.45],[26.5,0.9],[26.8,0.2],[27.1,0.6],[27.4,0.95],[27.7,0.3],[28.0,1.2],
  [28.3,0.65],[28.6,0.25],[28.9,0.85],[29.2,1.3],[29.5,1.05],[29.8,0.5],[30.1,0.25],[30.4,0.7],[30.7,0.9],[31.0,1.25],
  [31.3,0.65],[31.6,0.35],[31.9,0.9],[32.2,1.1],[32.5,0.65],[32.8,0.45],[33.1,0.75],[33.4,0.3],[33.7,1.05],[34.0,0.8],
  [34.3,0.6],[34.6,0.3],[34.9,0.95],[35.2,0.7],[35.5,0.25],[35.8,1.3],[36.1,0.45],[36.4,0.7],[36.7,0.25],[37.0,1.1],
  [37.3,0.75],[37.6,0.4],[37.9,1.35],[38.2,0.6],[38.6,0.9],[39.3,0.5],[40.1,0.8],[40.8,1.1],[26.0,0.1],[29.0,0.15],
  [32.0,0.1],[35.0,0.15],[38.0,0.1],[27.8,1.6],[30.8,1.65],[33.8,1.7],[36.8,1.55],[24.0,0.7],[22.2,0.3],[23.6,0.4],
  [27.2,1.3],[27.6,0.8],[28.1,0.5],[28.5,1.1],[28.9,0.35],[29.3,0.7],[29.7,1.2],[30.2,1.0],[30.6,0.55],[31.1,0.25],
  [31.5,0.8],[31.9,0.55],[32.3,0.75],[32.7,0.2],[33.2,1.35],[33.6,0.6],[34.1,0.45],[34.5,1.0],[35.0,0.85],[35.4,0.55],
  [35.9,0.35],[36.3,1.05],[36.8,0.8],[37.2,0.55],[37.7,0.95],[38.1,0.3],[38.6,0.45],[39.2,0.9],[26.5,0.6],[25.8,0.95],
  [25.1,1.25],[24.6,0.4],[30.0,1.45],[32.0,1.4],[34.0,1.3],[36.0,1.2],[38.4,1.45],[29.0,1.6],[31.4,1.75],[33.3,1.85]
];

// ---- styling ----
const DARK = '#555555';
const LIGHT = '#a9a9a9';
const BAR = '#808080';
const RED = '#a61b1f';
const TXT = '#595959';

Chart.defaults.font.family = 'Lato, "Open Sans", sans-serif';
Chart.defaults.font.size = 24;
Chart.defaults.color = TXT;

// minor gridlines, in-plot legends, free labels and the x title
const panelDecor = {
  id: 'panelDecor',
  beforeDatasetsDraw(chart, args, opts) {
    if (!opts.minorStep) return;
    const { ctx, chartArea: area, scales: { y } } = chart;
    ctx.save();
    ctx.strokeStyle = '#e1e1e1';
    ctx.lineWidth = 2;
    ctx.setLineDash([3, 3]);
    const count = Math.round((y.max - y.min) / opts.minorStep);
    for (let i = 0; i <= count; i++) {
      const v = y.min + i * opts.minorStep;
      const r = v / opts.majorStep;
      if (Math.abs(r - Math.round(r)) < 1e-6) continue;
      const py = Math.round(y.getPixelForValue(v));
      ctx.beginPath();
      ctx.moveTo(area.left, py);
      ctx.lineTo(area.right, py);
      ctx.stroke();
    }
    ctx.restore();
  },
  afterDatasetsDraw(chart, args, opts) {
    const { ctx, chartArea: area, scales: { x, y } } = chart;
    ctx.save();
    (opts.labels || []).forEach(l => {
      ctx.font = l.font;
      ctx.fillStyle = l.color;
      ctx.textAlign = 'center';
      ctx.textBaseline = 'middle';
      ctx.fillText(l.text, x.getPixelForValue(l.x), y.getPixelForValue(l.y));
    });
    if (opts.xTitle) {
      ctx.font = '24px Lato, sans-serif';
      ctx.fillStyle = TXT;
      ctx.textAlign = 'center';
      ctx.textBaseline = 'middle';
      ctx.fillText(opts.xTitle.text, opts.xTitle.x, opts.xTitle.y);
    }
    const lg = opts.legend;
    if (lg) {
      const markW = { dot: 10, box: 45, hatch: 45, dash: 52 };
      ctx.font = '25px Lato, sans-serif';
      ctx.textBaseline = 'middle';
      ctx.textAlign = 'left';
      const py = y.getPixelForValue(lg.y);
      const widths = lg.items.map(it => markW[it.marker] + it.gap + ctx.measureText(it.text).width);
      let px = 0;
      if (lg.center) {
        const total = widths.reduce((a, b) => a + b, 0) + lg.spacing * (widths.length - 1);
        px = (area.left + area.right) / 2 - total / 2;
      }
      lg.items.forEach((it, i) => {
        const start = it.x !== undefined ? x.getPixelForValue(it.x) : px;
        const ds = chart.data.datasets[it.dataset];
        const w = markW[it.marker];
        if (it.marker === 'dot') {
          ctx.fillStyle = ds.backgroundColor;
          ctx.beginPath();
          ctx.arc(start + 5, py, 4.5, 0, Math.PI * 2);
          ctx.fill();
        } else if (it.marker === 'box' || it.marker === 'hatch') {
          ctx.fillStyle = ds.backgroundColor;
          ctx.fillRect(start, py - 7, w, 14);
        } else if (it.marker === 'dash') {
          ctx.strokeStyle = ds.borderColor;
          ctx.lineWidth = 6;
          ctx.setLineDash([18, 12]);
          ctx.beginPath();
          ctx.moveTo(start, py);
          ctx.lineTo(start + w, py);
          ctx.stroke();
          ctx.setLineDash([]);
        }
        ctx.fillStyle = TXT;
        ctx.fillText(it.text, start + w + it.gap, py);
        px = start + widths[i] + (lg.spacing || 0);
      });
    }
    ctx.restore();
  }
};

function hatchPattern(ctx) {
  const tile = document.createElement('canvas');
  tile.width = 8;
  tile.height = 8;
  const g = tile.getContext('2d');
  g.fillStyle = '#ffffff';
  g.fillRect(0, 0, 8, 8);
  g.strokeStyle = '#7a7a7a';
  g.lineWidth = 2;
  g.beginPath();
  g.moveTo(0, 8); g.lineTo(8, 0);
  g.moveTo(-4, 4); g.lineTo(4, -4);
  g.moveTo(4, 12); g.lineTo(12, 4);
  g.stroke();
  return ctx.createPattern(tile, 'repeat');
}

function pointSet(label, data, color) {
  return { label, data, backgroundColor: color, borderWidth: 0, pointRadius: 5.5, pointStyle: 'circle' };
}

function zeroSet(data, color) {
  return { label: 'zero', data, showLine: true, borderColor: color, borderWidth: 9, borderCapStyle: 'round', pointRadius: 0 };
}

// fixed axis boxes so the plot areas sit where the figure has them
function fixY(width) {
  return s => { s.width = width; s.paddingTop = 0; s.paddingBottom = 0; };
}
function fixX(height) {
  return s => { s.height = height; };
}

function makeScatter(id, o) {
  new Chart(document.getElementById(id), {
    type: 'scatter',
    data: { datasets: o.datasets },
    options: {
      responsive: true,
      maintainAspectRatio: false,
      animation: false,
      events: [],
      layout: { padding: { top: o.top, right: o.right, left: 0, bottom: 0 } },
      plugins: {
        legend: { display: false },
        tooltip: { enabled: false },
        panelDecor: { minorStep: 0.4, majorStep: 2, legend: o.legend, labels: o.labels || [], xTitle: o.xTitle }
      },
      scales: {
        x: {
          type: 'linear', min: o.xMin, max: o.xMax,
          afterFit: fixX(o.xHeight),
          grid: { display: false },
          border: { display: false },
          ticks: { stepSize: 5, includeBounds: false, padding: o.xPad, font: { size: 24 } }
        },
        y: {
          type: 'linear', min: -6, max: 6.8,
          afterFit: fixY(o.yWidth),
          grid: { color: '#d9d9d9', lineWidth: 2, drawTicks: false },
          border: { display: false },
          ticks: { stepSize: 2, includeBounds: false, padding: 24, font: { size: 24 } },
          title: { display: true, text: 'Power [kW]', font: { family: '"Open Sans", sans-serif', size: 23 }, color: TXT, padding: { top: 35, bottom: 0 } }
        }
      }
    },
    plugins: [panelDecor]
  });
}

function makeBars(id, o) {
  const canvas = document.getElementById(id);
  const hatch = hatchPattern(canvas.getContext('2d'));
  new Chart(canvas, {
    type: 'bar',
    data: {
      labels: months,
      datasets: [
        { type: 'line', label: 'Electricity production from PV', data: o.pv, stack: 'pv', borderColor: RED, backgroundColor: RED,
          borderWidth: 6, borderDash: [17, 10], pointRadius: 0, tension: 0.3, fill: false },
        { label: 'Sensible energy', data: o.sensible, stack: 'energy', backgroundColor: BAR, borderWidth: 0, barPercentage: 0.4, categoryPercentage: 1 },
        { label: 'Latent energy', data: o.latent, stack: 'energy', backgroundColor: hatch, borderWidth: 0, barPercentage: 0.4, categoryPercentage: 1 }
      ]
    },
    options: {
      responsive: true,
      maintainAspectRatio: false,
      animation: false,
      events: [],
      layout: { padding: { top: o.top, right: 35, left: 0, bottom: 0 } },
      plugins: {
        legend: { display: false },
        tooltip: { enabled: false },
        panelDecor: {
          minorStep: 20, majorStep: 100,
          legend: {
            center: true, y: 761, spacing: 61,
            items: [
              { dataset: 1, marker: 'box', gap: 8, text: 'Sensible energy' },
              { dataset: 2, marker: 'hatch', gap: 3, text: 'Latent energy' },
              { dataset: 0, marker: 'dash', gap: 2, text: 'Electricity production from PV' }
            ]
          }
        }
      },
      scales: {
        x: {
          stacked: true,
          afterFit: fixX(o.xHeight),
          grid: { display: false },
          border: { display: false },
          ticks: { autoSkip: false, minRotation: 45, maxRotation: 45, padding: 10, font: { size: 26 } }
        },
        y: {
          stacked: true, min: -300, max: 800,
          afterFit: fixY(157),
          grid: { color: '#d9d9d9', lineWidth: 2, drawTicks: false },
          border: { display: false },
          ticks: { stepSize: 100, padding: 27, font: { size: 24 } },
          title: { display: true, text: 'Energy [kWh]', font: { family: '"Open Sans", sans-serif', size: 23 }, color: TXT, padding: { top: 37, bottom: 0 } }
        }
      }
    },
    plugins: [panelDecor]
  });
}

// a) Zermatt
makeScatter('chartA', {
  xMin: -25, xMax: 15, top: 13, right: 52, yWidth: 147, xHeight: 133, xPad: 24,
  xTitle: { text: 'Temperature [°C]', x: 781, y: 835 },
  datasets: [zeroSet(zermattZeroLine, DARK), pointSet('Sensible', zermattSensible, DARK)],
  legend: { y: 6.35, items: [{ dataset: 1, marker: 'dot', gap: 7, text: 'Sensible', x: 5.75 }] }
});

// c) Lecco
makeScatter('chartC', {
  xMin: -10, xMax: 32, top: 28, right: 36, yWidth: 144, xHeight: 128, xPad: 23,
  xTitle: { text: 'Temperature [°C]', x: 790, y: 864 },
  datasets: [
    { label: 'boundary', data: leccoBoundary, showLine: true, borderColor: '#c0392b', borderWidth: 2.5, borderDash: [4, 4], pointRadius: 0 },
    zeroSet(leccoZeroLine, LIGHT),
    pointSet('Latent', leccoLatent, LIGHT),
    pointSet('Sensible', leccoSensible, DARK)
  ],
  legend: { y: 5.06, items: [
    { dataset: 3, marker: 'dot', gap: 7, text: 'Sensible', x: -5.1 },
    { dataset: 2, marker: 'dot', gap: 7, text: 'Latent', x: 2.85 }
  ] },
  labels: [
    { text: 'Heating', x: 11.1, y: 6.1, color: '#a0282d', font: '34px Lato, sans-serif' },
    { text: 'Cooling', x: 18.0, y: 6.1, color: '#a0282d', font: '34px Lato, sans-serif' }
  ]
});

// e) Po
makeScatter('chartE', {
  xMin: 15, xMax: 45, top: 24, right: 48, yWidth: 144, xHeight: 129, xPad: 25,
  xTitle: { text: 'Temperature [°C]', x: 779, y: 847 },
  datasets: [
    zeroSet(poZeroLine, LIGHT),
    pointSet('Latent', poLatent, LIGHT),
    pointSet('Sensible', poSensible, DARK)
  ],
  legend: { y: -4.83, items: [
    { dataset: 2, marker: 'dot', gap: 7, text: 'Sensible', x: 26.0 },
    { dataset: 1, marker: 'dot', gap: 7, text: 'Latent', x: 31.7 }
  ] }
});

makeBars('chartB', { top: 41, xHeight: 154, pv: zermattPV, sensible: zermattSensibleEnergy, latent: zermattLatentEnergy });
makeBars('chartD', { top: 57, xHeight: 164, pv: leccoPV, sensible: leccoSensibleEnergy, latent: leccoLatentEnergy });
makeBars('chartF', { top: 52, xHeight: 150, pv: poPV, sensible: poSensibleEnergy, latent: poLatentEnergy });
</script>
</body>
</html>
